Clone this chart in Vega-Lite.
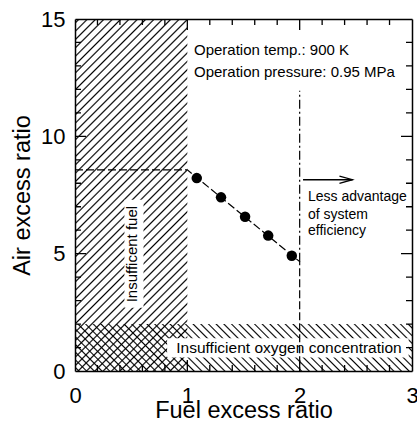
{
"$schema":"https://vega.github.io/schema/vega-lite/v6.json",
"width":337,"height":352,
"autosize":{"type":"none"},
"padding":{"left":75,"top":19,"right":5,"bottom":58},
"config":{
 "font":"Liberation Sans",
 "view":{"stroke":null},
 "axis":{"ticks":false,"grid":false,"domainColor":"#000","domainWidth":1.5,"labelColor":"#000","labelFont":"Liberation Sans","labelFontSize":22,"titleFont":"Liberation Sans","titleFontSize":23.5,"titleFontWeight":"normal","titleColor":"#000","zindex":1,"labelOverlap":false,"labelFlush":false}
},
"layer":[
{
 "encoding":{
  "x":{"field":"x","type":"quantitative","scale":{"domain":[0,3],"nice":false,"zero":false},
   "axis":{"orient":"bottom","values":[0,1,2,3],"format":"d","labelPadding":14,"title":"Fuel excess ratio","titlePadding":-8}},
  "y":{"field":"y","type":"quantitative","scale":{"domain":[0,15],"nice":false,"zero":false},
   "axis":{"orient":"left","values":[0,5,10,15],"format":"d","labelPadding":10,"title":"Air excess ratio","titlePadding":6}}
 },
 "layer":[
  {"data":{"values":[{"x":0,"x2":1,"y":0,"y2":15}]},
   "mark":{"type":"rect","fill":{"gradient":"linear","x1":0,"y1":0,"x2":0.382,"y2":1.197,"stops":[
{"offset":0.0055,"color":"transparent"},{"offset":0.009,"color":"#000"},{"offset":0.0125,"color":"transparent"},
{"offset":0.0235,"color":"transparent"},{"offset":0.027,"color":"#000"},{"offset":0.0305,"color":"transparent"},
{"offset":0.0415,"color":"transparent"},{"offset":0.045,"color":"#000"},{"offset":0.0485,"color":"transparent"},
{"offset":0.0595,"color":"transparent"},{"offset":0.063,"color":"#000"},{"offset":0.0665,"color":"transparent"},
{"offset":0.0775,"color":"transparent"},{"offset":0.081,"color":"#000"},{"offset":0.0845,"color":"transparent"},
{"offset":0.0955,"color":"transparent"},{"offset":0.099,"color":"#000"},{"offset":0.1025,"color":"transparent"},
{"offset":0.1135,"color":"transparent"},{"offset":0.117,"color":"#000"},{"offset":0.1205,"color":"transparent"},
{"offset":0.1315,"color":"transparent"},{"offset":0.135,"color":"#000"},{"offset":0.1385,"color":"transparent"},
{"offset":0.1495,"color":"transparent"},{"offset":0.153,"color":"#000"},{"offset":0.1565,"color":"transparent"},
{"offset":0.1675,"color":"transparent"},{"offset":0.171,"color":"#000"},{"offset":0.1745,"color":"transparent"},
{"offset":0.1855,"color":"transparent"},{"offset":0.189,"color":"#000"},{"offset":0.1925,"color":"transparent"},
{"offset":0.2035,"color":"transparent"},{"offset":0.207,"color":"#000"},{"offset":0.2105,"color":"transparent"},
{"offset":0.2215,"color":"transparent"},{"offset":0.225,"color":"#000"},{"offset":0.2285,"color":"transparent"},
{"offset":0.2395,"color":"transparent"},{"offset":0.243,"color":"#000"},{"offset":0.2465,"color":"transparent"},
{"offset":0.2575,"color":"transparent"},{"offset":0.261,"color":"#000"},{"offset":0.2645,"color":"transparent"},
{"offset":0.2755,"color":"transparent"},{"offset":0.279,"color":"#000"},{"offset":0.2825,"color":"transparent"},
{"offset":0.2935,"color":"transparent"},{"offset":0.297,"color":"#000"},{"offset":0.3005,"color":"transparent"},
{"offset":0.3115,"color":"transparent"},{"offset":0.315,"color":"#000"},{"offset":0.3185,"color":"transparent"},
{"offset":0.3295,"color":"transparent"},{"offset":0.333,"color":"#000"},{"offset":0.3365,"color":"transparent"},
{"offset":0.3475,"color":"transparent"},{"offset":0.351,"color":"#000"},{"offset":0.3545,"color":"transparent"},
{"offset":0.3655,"color":"transparent"},{"offset":0.369,"color":"#000"},{"offset":0.3725,"color":"transparent"},
{"offset":0.3835,"color":"transparent"},{"offset":0.387,"color":"#000"},{"offset":0.3905,"color":"transparent"},
{"offset":0.4015,"color":"transparent"},{"offset":0.405,"color":"#000"},{"offset":0.4085,"color":"transparent"},
{"offset":0.4195,"color":"transparent"},{"offset":0.423,"color":"#000"},{"offset":0.4265,"color":"transparent"},
{"offset":0.4375,"color":"transparent"},{"offset":0.441,"color":"#000"},{"offset":0.4445,"color":"transparent"},
{"offset":0.4555,"color":"transparent"},{"offset":0.459,"color":"#000"},{"offset":0.4625,"color":"transparent"},
{"offset":0.4735,"color":"transparent"},{"offset":0.477,"color":"#000"},{"offset":0.4805,"color":"transparent"},
{"offset":0.4915,"color":"transparent"},{"offset":0.495,"color":"#000"},{"offset":0.4985,"color":"transparent"},
{"offset":0.5095,"color":"transparent"},{"offset":0.513,"color":"#000"},{"offset":0.5165,"color":"transparent"},
{"offset":0.5275,"color":"transparent"},{"offset":0.531,"color":"#000"},{"offset":0.5345,"color":"transparent"},
{"offset":0.5455,"color":"transparent"},{"offset":0.549,"color":"#000"},{"offset":0.5525,"color":"transparent"},
{"offset":0.5635,"color":"transparent"},{"offset":0.567,"color":"#000"},{"offset":0.5705,"color":"transparent"},
{"offset":0.5815,"color":"transparent"},{"offset":0.585,"color":"#000"},{"offset":0.5885,"color":"transparent"},
{"offset":0.5995,"color":"transparent"},{"offset":0.603,"color":"#000"},{"offset":0.6065,"color":"transparent"},
{"offset":0.6175,"color":"transparent"},{"offset":0.621,"color":"#000"},{"offset":0.6245,"color":"transparent"},
{"offset":0.6355,"color":"transparent"},{"offset":0.639,"color":"#000"},{"offset":0.6425,"color":"transparent"},
{"offset":0.6535,"color":"transparent"},{"offset":0.657,"color":"#000"},{"offset":0.6605,"color":"transparent"},
{"offset":0.6715,"color":"transparent"},{"offset":0.675,"color":"#000"},{"offset":0.6785,"color":"transparent"},
{"offset":0.6895,"color":"transparent"},{"offset":0.693,"color":"#000"},{"offset":0.6965,"color":"transparent"},
{"offset":0.7075,"color":"transparent"},{"offset":0.711,"color":"#000"},{"offset":0.7145,"color":"transparent"},
{"offset":0.7255,"color":"transparent"},{"offset":0.729,"color":"#000"},{"offset":0.7325,"color":"transparent"},
{"offset":0.7435,"color":"transparent"},{"offset":0.747,"color":"#000"},{"offset":0.7505,"color":"transparent"},
{"offset":0.7615,"color":"transparent"},{"offset":0.765,"color":"#000"},{"offset":0.7685,"color":"transparent"},
{"offset":0.7795,"color":"transparent"},{"offset":0.783,"color":"#000"},{"offset":0.7865,"color":"transparent"},
{"offset":0.7975,"color":"transparent"},{"offset":0.801,"color":"#000"},{"offset":0.8045,"color":"transparent"},
{"offset":0.8155,"color":"transparent"},{"offset":0.819,"color":"#000"},{"offset":0.8225,"color":"transparent"},
{"offset":0.8335,"color":"transparent"},{"offset":0.837,"color":"#000"},{"offset":0.8405,"color":"transparent"},
{"offset":0.8515,"color":"transparent"},{"offset":0.855,"color":"#000"},{"offset":0.8585,"color":"transparent"},
{"offset":0.8695,"color":"transparent"},{"offset":0.873,"color":"#000"},{"offset":0.8765,"color":"transparent"},
{"offset":0.8875,"color":"transparent"},{"offset":0.891,"color":"#000"},{"offset":0.8945,"color":"transparent"},
{"offset":0.9055,"color":"transparent"},{"offset":0.909,"color":"#000"},{"offset":0.9125,"color":"transparent"},
{"offset":0.9235,"color":"transparent"},{"offset":0.927,"color":"#000"},{"offset":0.9305,"color":"transparent"},
{"offset":0.9415,"color":"transparent"},{"offset":0.945,"color":"#000"},{"offset":0.9485,"color":"transparent"},
{"offset":0.9595,"color":"transparent"},{"offset":0.963,"color":"#000"},{"offset":0.9665,"color":"transparent"},
{"offset":0.9775,"color":"transparent"},{"offset":0.981,"color":"#000"},{"offset":0.9845,"color":"transparent"}
]}},
   "encoding":{"x2":{"field":"x2"},"y2":{"field":"y2"}}},
  {"data":{"values":[{"x":0,"x2":3,"y":0,"y2":2}]},
   "mark":{"type":"rect","fill":{"gradient":"linear","x1":0,"y1":1,"x2":1.1176,"y2":0.8444,"stops":[
{"offset":0.006,"color":"transparent"},{"offset":0.01,"color":"#000"},{"offset":0.014,"color":"transparent"},
{"offset":0.026,"color":"transparent"},{"offset":0.03,"color":"#000"},{"offset":0.034,"color":"transparent"},
{"offset":0.046,"color":"transparent"},{"offset":0.05,"color":"#000"},{"offset":0.054,"color":"transparent"},
{"offset":0.066,"color":"transparent"},{"offset":0.07,"color":"#000"},{"offset":0.074,"color":"transparent"},
{"offset":0.086,"color":"transparent"},{"offset":0.09,"color":"#000"},{"offset":0.094,"color":"transparent"},
{"offset":0.106,"color":"transparent"},{"offset":0.11,"color":"#000"},{"offset":0.114,"color":"transparent"},
{"offset":0.126,"color":"transparent"},{"offset":0.13,"color":"#000"},{"offset":0.134,"color":"transparent"},
{"offset":0.146,"color":"transparent"},{"offset":0.15,"color":"#000"},{"offset":0.154,"color":"transparent"},
{"offset":0.166,"color":"transparent"},{"offset":0.17,"color":"#000"},{"offset":0.174,"color":"transparent"},
{"offset":0.186,"color":"transparent"},{"offset":0.19,"color":"#000"},{"offset":0.194,"color":"transparent"},
{"offset":0.206,"color":"transparent"},{"offset":0.21,"color":"#000"},{"offset":0.214,"color":"transparent"},
{"offset":0.226,"color":"transparent"},{"offset":0.23,"color":"#000"},{"offset":0.234,"color":"transparent"},
{"offset":0.246,"color":"transparent"},{"offset":0.25,"color":"#000"},{"offset":0.254,"color":"transparent"},
{"offset":0.266,"color":"transparent"},{"offset":0.27,"color":"#000"},{"offset":0.274,"color":"transparent"},
{"offset":0.286,"color":"transparent"},{"offset":0.29,"color":"#000"},{"offset":0.294,"color":"transparent"},
{"offset":0.306,"color":"transparent"},{"offset":0.31,"color":"#000"},{"offset":0.314,"color":"transparent"},
{"offset":0.326,"color":"transparent"},{"offset":0.33,"color":"#000"},{"offset":0.334,"color":"transparent"},
{"offset":0.346,"color":"transparent"},{"offset":0.35,"color":"#000"},{"offset":0.354,"color":"transparent"},
{"offset":0.366,"color":"transparent"},{"offset":0.37,"color":"#000"},{"offset":0.374,"color":"transparent"},
{"offset":0.386,"color":"transparent"},{"offset":0.39,"color":"#000"},{"offset":0.394,"color":"transparent"},
{"offset":0.406,"color":"transparent"},{"offset":0.41,"color":"#000"},{"offset":0.414,"color":"transparent"},
{"offset":0.426,"color":"transparent"},{"offset":0.43,"color":"#000"},{"offset":0.434,"color":"transparent"},
{"offset":0.446,"color":"transparent"},{"offset":0.45,"color":"#000"},{"offset":0.454,"color":"transparent"},
{"offset":0.466,"color":"transparent"},{"offset":0.47,"color":"#000"},{"offset":0.474,"color":"transparent"},
{"offset":0.486,"color":"transparent"},{"offset":0.49,"color":"#000"},{"offset":0.494,"color":"transparent"},
{"offset":0.506,"color":"transparent"},{"offset":0.51,"color":"#000"},{"offset":0.514,"color":"transparent"},
{"offset":0.526,"color":"transparent"},{"offset":0.53,"color":"#000"},{"offset":0.534,"color":"transparent"},
{"offset":0.546,"color":"transparent"},{"offset":0.55,"color":"#000"},{"offset":0.554,"color":"transparent"},
{"offset":0.566,"color":"transparent"},{"offset":0.57,"color":"#000"},{"offset":0.574,"color":"transparent"},
{"offset":0.586,"color":"transparent"},{"offset":0.59,"color":"#000"},{"offset":0.594,"color":"transparent"},
{"offset":0.606,"color":"transparent"},{"offset":0.61,"color":"#000"},{"offset":0.614,"color":"transparent"},
{"offset":0.626,"color":"transparent"},{"offset":0.63,"color":"#000"},{"offset":0.634,"color":"transparent"},
{"offset":0.646,"color":"transparent"},{"offset":0.65,"color":"#000"},{"offset":0.654,"color":"transparent"},
{"offset":0.666,"color":"transparent"},{"offset":0.67,"color":"#000"},{"offset":0.674,"color":"transparent"},
{"offset":0.686,"color":"transparent"},{"offset":0.69,"color":"#000"},{"offset":0.694,"color":"transparent"},
{"offset":0.706,"color":"transparent"},{"offset":0.71,"color":"#000"},{"offset":0.714,"color":"transparent"},
{"offset":0.726,"color":"transparent"},{"offset":0.73,"color":"#000"},{"offset":0.734,"color":"transparent"},
{"offset":0.746,"color":"transparent"},{"offset":0.75,"color":"#000"},{"offset":0.754,"color":"transparent"},
{"offset":0.766,"color":"transparent"},{"offset":0.77,"color":"#000"},{"offset":0.774,"color":"transparent"},
{"offset":0.786,"color":"transparent"},{"offset":0.79,"color":"#000"},{"offset":0.794,"color":"transparent"},
{"offset":0.806,"color":"transparent"},{"offset":0.81,"color":"#000"},{"offset":0.814,"color":"transparent"},
{"offset":0.826,"color":"transparent"},{"offset":0.83,"color":"#000"},{"offset":0.834,"color":"transparent"},
{"offset":0.846,"color":"transparent"},{"offset":0.85,"color":"#000"},{"offset":0.854,"color":"transparent"},
{"offset":0.866,"color":"transparent"},{"offset":0.87,"color":"#000"},{"offset":0.874,"color":"transparent"},
{"offset":0.886,"color":"transparent"},{"offset":0.89,"color":"#000"},{"offset":0.894,"color":"transparent"},
{"offset":0.906,"color":"transparent"},{"offset":0.91,"color":"#000"},{"offset":0.914,"color":"transparent"},
{"offset":0.926,"color":"transparent"},{"offset":0.93,"color":"#000"},{"offset":0.934,"color":"transparent"},
{"offset":0.946,"color":"transparent"},{"offset":0.95,"color":"#000"},{"offset":0.954,"color":"transparent"},
{"offset":0.966,"color":"transparent"},{"offset":0.97,"color":"#000"},{"offset":0.974,"color":"transparent"},
{"offset":0.986,"color":"transparent"},{"offset":0.99,"color":"#000"},{"offset":0.994,"color":"transparent"}
]}},
   "encoding":{"x2":{"field":"x2"},"y2":{"field":"y2"}}},
  {"data":{"values":[{"x":0.44,"x2":0.61,"y":2.7,"y2":7.3},{"x":0.82,"x2":2.97,"y":0.57,"y2":1.4}]},
   "mark":{"type":"rect","fill":"#fff"},
   "encoding":{"x2":{"field":"x2"},"y2":{"field":"y2"}}},
  {"data":{"values":[{"x":0,"y":8.57,"o":1},{"x":1,"y":8.57,"o":2},{"x":2,"y":4.66,"o":3},{"x":2,"y":0,"o":4}]},
   "mark":{"type":"line","color":"#000","strokeWidth":1.2,"strokeDash":[8,3]},
   "encoding":{"order":{"field":"o","type":"quantitative"}}},
  {"data":{"values":[{"x":2,"y":4.66,"o":1},{"x":2,"y":11.94,"o":2}]},
   "mark":{"type":"line","color":"#000","strokeWidth":1.2,"strokeDash":[9,3,2,3]},
   "encoding":{"order":{"field":"o","type":"quantitative"}}},
  {"data":{"values":[{"x":1.084,"y":8.22},{"x":1.3,"y":7.4},{"x":1.514,"y":6.57},{"x":1.72,"y":5.77},{"x":1.93,"y":4.91}]},
   "mark":{"type":"point","filled":true,"color":"#000","opacity":1,"size":110}},
  {"data":{"values":[{"x":2.03,"x2":2.47,"y":8.15}]},
   "mark":{"type":"rule","color":"#000","strokeWidth":1.3},
   "encoding":{"x2":{"field":"x2"}}},
  {"data":{"values":[{"x":2.47,"y":8.15}]},
   "mark":{"type":"point","shape":"M-1,-0.28L0,0L-1,0.28","filled":false,"stroke":"#000","strokeWidth":1.3,"size":676,"opacity":1}},
  {"data":{"values":[{"x":1.059,"y":13.68,"t":"Operation temp.: 900 K"},{"x":1.059,"y":12.74,"t":"Operation pressure: 0.95 MPa"}]},
   "mark":{"type":"text","align":"left","baseline":"middle","fontSize":15,"color":"#000"},
   "encoding":{"text":{"field":"t"}}},
  {"data":{"values":[{"x":2.074,"y":7.42,"t":"Less advantage"},{"x":2.074,"y":6.65,"t":"of system"},{"x":2.074,"y":5.95,"t":"efficiency"}]},
   "mark":{"type":"text","align":"left","baseline":"middle","fontSize":14,"color":"#000"},
   "encoding":{"text":{"field":"t"}}},
  {"data":{"values":[{"x":0.507,"y":4.98,"t":"Insufficent fuel"}]},
   "mark":{"type":"text","align":"center","baseline":"middle","fontSize":15,"angle":270,"color":"#000"},
   "encoding":{"text":{"field":"t"}}},
  {"data":{"values":[{"x":1.905,"y":1.0,"t":"Insufficient oxygen concentration"}]},
   "mark":{"type":"text","align":"center","baseline":"middle","fontSize":15.5,"color":"#000"},
   "encoding":{"text":{"field":"t"}}}
 ]
},
{
 "data":{"values":[{"x":0,"y":0}]},
 "mark":{"type":"point","opacity":0},
 "encoding":{
  "x":{"field":"x","type":"quantitative","scale":{"domain":[0,3],"nice":false,"zero":false},
   "axis":{"orient":"top","values":[0,1,2,3],"labels":false,"title":null}},
  "y":{"field":"y","type":"quantitative","scale":{"domain":[0,15],"nice":false,"zero":false},
   "axis":{"orient":"right","values":[0,5,10,15],"labels":false,"title":null}}
 }
},
{
 "data":{"values":[{"x":1},{"x":2}]},
 "mark":{"type":"rule","color":"#000","strokeWidth":1.3,"strokeDash":[11,330,11]},
 "encoding":{"x":{"field":"x","type":"quantitative","scale":{"domain":[0,3],"nice":false,"zero":false},"axis":null}}
},
{
 "data":{"values":[{"x":0.2},{"x":0.4},{"x":0.6},{"x":0.8},{"x":1.2},{"x":1.4},{"x":1.6},{"x":1.8},{"x":2.2},{"x":2.4},{"x":2.6},{"x":2.8}]},
 "mark":{"type":"rule","color":"#000","strokeWidth":1.3,"strokeDash":[6,340,6]},
 "encoding":{"x":{"field":"x","type":"quantitative","scale":{"domain":[0,3],"nice":false,"zero":false},"axis":null}}
},
{
 "data":{"values":[{"y":5},{"y":10}]},
 "mark":{"type":"rule","color":"#000","strokeWidth":1.3,"strokeDash":[11,315,11]},
 "encoding":{"y":{"field":"y","type":"quantitative","scale":{"domain":[0,15],"nice":false,"zero":false},"axis":null}}
},
{
 "data":{"values":[{"y":1},{"y":2},{"y":3},{"y":4},{"y":6},{"y":7},{"y":8},{"y":9},{"y":11},{"y":12},{"y":13},{"y":14}]},
 "mark":{"type":"rule","color":"#000","strokeWidth":1.3,"strokeDash":[6,325,6]},
 "encoding":{"y":{"field":"y","type":"quantitative","scale":{"domain":[0,15],"nice":false,"zero":false},"axis":null}}
}
],
"resolve":{"axis":{"x":"independent","y":"independent"}}
}
